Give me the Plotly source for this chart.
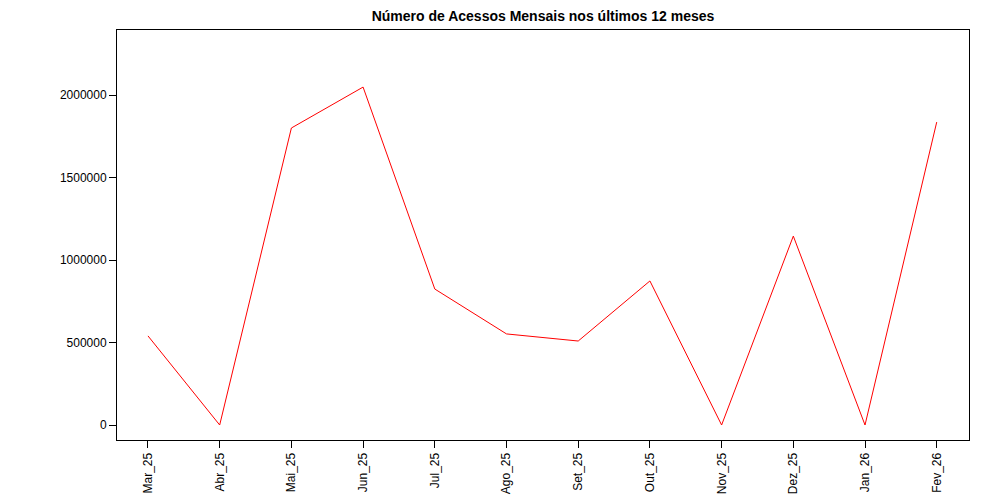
import plotly.graph_objects as go

months = ["Mar_25","Abr_25","Mai_25","Jun_25","Jul_25","Ago_25","Set_25","Out_25","Nov_25","Dez_25","Jan_26","Fev_26"]
acessos = [540000, 0, 1800000, 2048000, 824000, 552000, 509000, 873000, 0, 1145000, 0, 1836000]

idx = list(range(len(months)))
fig = go.Figure(go.Scatter(x=idx, y=acessos, mode="lines", line=dict(color="#ff0000", width=1)))
fig.update_layout(
    width=1000, height=500, paper_bgcolor="white", plot_bgcolor="white",
    margin=dict(l=109, r=39, t=22, b=68),
    font=dict(family="Liberation Sans, Arial, sans-serif", size=12, color="black"),
    title=dict(text="<b>Número de Acessos Mensais nos últimos 12 meses</b>", x=(109+426)/1000, xanchor="center",
               y=1-8/500, yanchor="middle", font=dict(size=14)),
    showlegend=False,
)
fig.update_xaxes(range=[-0.432, 11.45], tickvals=idx, ticktext=months, tickangle=-90,
                 showgrid=False, zeroline=False, showline=True, linecolor="black", linewidth=1,
                 mirror=True, ticks="outside", ticklen=7, tickcolor="black")
fig.update_yaxes(range=[-90900, 2394000], tickvals=[0, 500000, 1000000, 1500000, 2000000],
                 ticktext=["0","500000","1000000","1500000","2000000"],
                 showgrid=False, zeroline=False, showline=True, linecolor="black", linewidth=1,
                 mirror=True, ticks="outside", ticklen=7, tickcolor="black")
fig.write_html("out.html")
